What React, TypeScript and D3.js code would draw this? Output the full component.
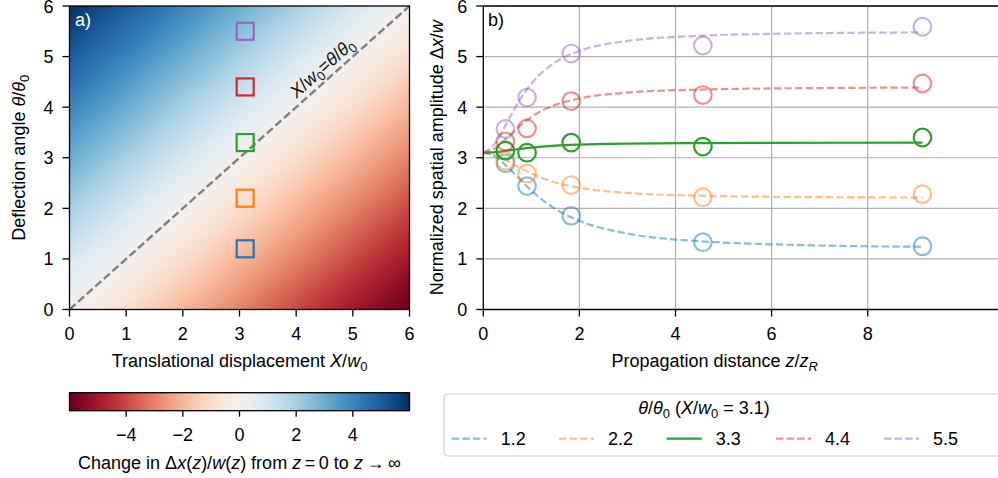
import React from 'react';
import * as d3 from 'd3';

// ---------- data ----------
const X0 = 3.1;
const thetaValues = [1.2, 2.2, 3.3, 4.4, 5.5];
const seriesLabels = ['1.2', '2.2', '3.3', '4.4', '5.5'];
const seriesColors = ['#1f77b4', '#ff7f0e', '#2ca02c', '#d62728', '#9467bd'];
const seriesAlpha = [0.5, 0.5, 1, 0.5, 0.5];
const seriesDashed = [true, true, false, true, true];

const measZ = [0.46, 0.91, 1.83, 4.57, 9.14];
const meas12 = [2.89, 2.44, 1.85, 1.33, 1.25];
const meas22 = [2.94, 2.69, 2.46, 2.22, 2.28];
const meas33 = [3.14, 3.1, 3.3, 3.22, 3.4];
const meas44 = [3.32, 3.58, 4.12, 4.24, 4.47];
const meas55 = [3.57, 4.19, 5.06, 5.22, 5.59];
const measAll = [meas12, meas22, meas33, meas44, meas55];

const curveZ = [0, 0.25, 0.5, 0.75, 1, 1.5, 2, 3, 4.5, 6, 9.14];
const curve12 = [3.1, 3.021, 2.824, 2.582, 2.351, 1.988, 1.753, 1.502, 1.351, 1.289, 1.24];
const curve22 = [3.1, 3.054, 2.942, 2.809, 2.688, 2.511, 2.407, 2.306, 2.25, 2.229, 2.213];
const curve33 = [3.1, 3.112, 3.141, 3.173, 3.202, 3.24, 3.261, 3.281, 3.291, 3.295, 3.298];
const curve44 = [3.1, 3.191, 3.4, 3.622, 3.806, 4.045, 4.172, 4.288, 4.348, 4.37, 4.387];
const curve55 = [3.1, 3.29, 3.707, 4.128, 4.464, 4.889, 5.111, 5.309, 5.411, 5.449, 5.478];
const curveAll = [curve12, curve22, curve33, curve44, curve55];

const axisTicksA = [0, 1, 2, 3, 4, 5, 6];
const xTicksB = [0, 2, 4, 6, 8];
const cbTicks = [-4, -2, 0, 2, 4];
const cbDomain = [-6, 6];

// ---------- layout ----------
const W = 998;
const H = 478;
const FONT = '"Liberation Sans", Arial, Helvetica, sans-serif';
const FS = 18;

const xA = d3.scaleLinear().domain([0, 6]).range([69.5, 409.5]);
const yS = d3.scaleLinear().domain([0, 6]).range([309.5, 6]);
const xB = d3.scaleLinear().domain([0, 8]).range([483.3, 867.7]);
const bRight = 1012;
const cbScale = d3.scaleLinear().domain(cbDomain).range([69.5, 409.5]);
const cbTop = 392.7;
const cbBottom = 410.7;

const minus = (v: number) => (v < 0 ? '\u2212' + Math.abs(v) : String(v));

function App() {
  // heatmap gradient geometry: value = theta - X
  const sx = (xA(1) - xA(0));
  const sy = (yS(0) - yS(1));
  const gx = -1 / sx;
  const gy = -1 / sy;
  const g2 = gx * gx + gy * gy;
  const span = cbDomain[1] - cbDomain[0];
  const p1 = [xA(6), yS(0)]; // value = -6
  const p2 = [p1[0] + gx * span / g2, p1[1] + gy * span / g2];
  const nStops = 41;
  const stops = d3.range(nStops).map(i => i / (nStops - 1));

  const line = d3.line<[number, number]>()
    .x(d => xB(d[0]))
    .y(d => yS(d[1]))
    .curve(d3.curveMonotoneX);

  const diagAngle = -Math.atan2(yS(0) - yS(6), xA(6) - xA(0)) * 180 / Math.PI;
  const labPt = [xA(4.6), yS(4.6)];

  const legendX = [451.7, 559, 666.7, 776, 884];
  const legendY = 438.7;

  const sub = (t: string, italic = false) => (
    <tspan fontSize={13} dy={4} fontStyle={italic ? 'italic' : 'normal'}>{t}</tspan>
  );

  return (
    <svg width={W} height={H} style={{ position: 'absolute', left: 0, top: 0, fontFamily: FONT }}>
      <defs>
        <linearGradient id="heat" gradientUnits="userSpaceOnUse" x1={p1[0]} y1={p1[1]} x2={p2[0]} y2={p2[1]}>
          {stops.map((t, i) => (
            <stop key={i} offset={t} stopColor={d3.interpolateRdBu(t)} />
          ))}
        </linearGradient>
        <linearGradient id="cbar" gradientUnits="userSpaceOnUse" x1={cbScale(-6)} y1={0} x2={cbScale(6)} y2={0}>
          {stops.map((t, i) => (
            <stop key={i} offset={t} stopColor={d3.interpolateRdBu(t)} />
          ))}
        </linearGradient>
        <clipPath id="clipB">
          <rect x={xB(0)} y={yS(6)} width={bRight - xB(0)} height={yS(0) - yS(6)} />
        </clipPath>
      </defs>
      <rect x={0} y={0} width={W} height={H} fill="white" />

      {/* ---------- Panel a ---------- */}
      <rect x={xA(0)} y={yS(6)} width={xA(6) - xA(0)} height={yS(0) - yS(6)} fill="url(#heat)" />
      <line x1={xA(0)} y1={yS(0)} x2={xA(6)} y2={yS(6)} stroke="#7f7f7f" strokeWidth={2.4} strokeDasharray="8,3.5" />
      <text transform={`translate(${labPt[0]},${labPt[1]}) rotate(${diagAngle})`} textAnchor="middle" dy={-6} fontSize={FS} fill="#111">
        <tspan fontStyle="italic">X</tspan>/<tspan fontStyle="italic">w</tspan>{sub('0')}
        <tspan dy={-4}>=</tspan><tspan fontStyle="italic">θ</tspan>/<tspan fontStyle="italic">θ</tspan>{sub('0')}
      </text>
      {thetaValues.map((th, i) => (
        <rect key={i} x={xA(X0) - 8.5} y={yS(th) - 8.5} width={17} height={17} fill="none" stroke={seriesColors[i]} strokeWidth={2.2} />
      ))}
      <text x={75} y={26} fill="white" fontSize={FS}>a)</text>
      <rect x={xA(0)} y={yS(6)} width={xA(6) - xA(0)} height={yS(0) - yS(6)} fill="none" stroke="black" strokeWidth={1.3} />
      {axisTicksA.map(t => (
        <g key={'xa' + t}>
          <line x1={xA(t)} x2={xA(t)} y1={yS(0)} y2={yS(0) + 7} stroke="black" strokeWidth={1.3} />
          <text x={xA(t)} y={340} textAnchor="middle" fontSize={FS}>{t}</text>
        </g>
      ))}
      {axisTicksA.map(t => (
        <g key={'ya' + t}>
          <line x1={xA(0) - 7} x2={xA(0)} y1={yS(t)} y2={yS(t)} stroke="black" strokeWidth={1.3} />
          <text x={xA(0) - 16} y={yS(t) + 6.5} textAnchor="end" fontSize={FS}>{t}</text>
        </g>
      ))}
      <text x={(xA(0) + xA(6)) / 2} y={367} textAnchor="middle" fontSize={FS}>
        Translational displacement <tspan fontStyle="italic">X</tspan>/<tspan fontStyle="italic">w</tspan>{sub('0')}
      </text>
      <text transform={`translate(25,${(yS(0) + yS(6)) / 2}) rotate(-90)`} textAnchor="middle" fontSize={FS}>
        Deflection angle <tspan fontStyle="italic">θ</tspan>/<tspan fontStyle="italic">θ</tspan>{sub('0')}
      </text>

      {/* ---------- Colorbar ---------- */}
      <rect x={cbScale(-6)} y={cbTop} width={cbScale(6) - cbScale(-6)} height={cbBottom - cbTop} fill="url(#cbar)" stroke="black" strokeWidth={1.3} />
      {cbTicks.map(t => (
        <g key={'cb' + t}>
          <line x1={cbScale(t)} x2={cbScale(t)} y1={cbBottom} y2={cbBottom + 6} stroke="black" strokeWidth={1.3} />
          <text x={cbScale(t)} y={441} textAnchor="middle" fontSize={FS}>{minus(t)}</text>
        </g>
      ))}
      <text x={(cbScale(-6) + cbScale(6)) / 2} y={469} textAnchor="middle" fontSize={FS}>
        Change in Δ<tspan fontStyle="italic">x</tspan>(<tspan fontStyle="italic">z</tspan>)/<tspan fontStyle="italic">w</tspan>(<tspan fontStyle="italic">z</tspan>) from <tspan fontStyle="italic">z</tspan>{'\u2009'}={'\u2009'}0 to <tspan fontStyle="italic">z</tspan>{'\u2009'}→{'\u2009'}∞
      </text>

      {/* ---------- Panel b ---------- */}
      <g clipPath="url(#clipB)">
        {axisTicksA.filter(t => t > 0).map(t => (
          <line key={'gy' + t} x1={xB(0)} x2={bRight} y1={yS(t)} y2={yS(t)} stroke="#b0b0b0" strokeWidth={1.2} />
        ))}
        {xTicksB.filter(t => t > 0).map(t => (
          <line key={'gx' + t} x1={xB(t)} x2={xB(t)} y1={yS(0)} y2={yS(6)} stroke="#b0b0b0" strokeWidth={1.2} />
        ))}
        {curveAll.map((c, i) => (
          <path key={'c' + i}
            d={line(curveZ.map((z, j) => [z, c[j]] as [number, number])) || ''}
            fill="none" stroke={seriesColors[i]} strokeOpacity={seriesAlpha[i]} strokeWidth={2.2}
            strokeDasharray={seriesDashed[i] ? '7.4,3.2' : undefined} />
        ))}
        {measAll.map((m, i) => m.map((v, j) => (
          <circle key={'m' + i + '-' + j} cx={xB(measZ[j])} cy={yS(v)} r={8.8} fill="none"
            stroke={seriesColors[i]} strokeOpacity={seriesAlpha[i]} strokeWidth={2.2} />
        )))}
      </g>
      <line x1={xB(0)} x2={bRight} y1={yS(6)} y2={yS(6)} stroke="black" strokeWidth={1.3} />
      <line x1={xB(0)} x2={bRight} y1={yS(0)} y2={yS(0)} stroke="black" strokeWidth={1.3} />
      <line x1={xB(0)} x2={xB(0)} y1={yS(0)} y2={yS(6)} stroke="black" strokeWidth={1.3} />
      <text x={488} y={26} fontSize={FS}>b)</text>
      {xTicksB.map(t => (
        <g key={'xb' + t}>
          <line x1={xB(t)} x2={xB(t)} y1={yS(0)} y2={yS(0) + 7} stroke="black" strokeWidth={1.3} />
          <text x={xB(t)} y={340} textAnchor="middle" fontSize={FS}>{t}</text>
        </g>
      ))}
      {axisTicksA.map(t => (
        <g key={'yb' + t}>
          <line x1={xB(0) - 7} x2={xB(0)} y1={yS(t)} y2={yS(t)} stroke="black" strokeWidth={1.3} />
          <text x={xB(0) - 16} y={yS(t) + 6.5} textAnchor="end" fontSize={FS}>{t}</text>
        </g>
      ))}
      <text x={714.7} y={367} textAnchor="middle" fontSize={FS}>
        Propagation distance <tspan fontStyle="italic">z</tspan>/<tspan fontStyle="italic">z</tspan>{sub('R', true)}
      </text>
      <text transform={`translate(443,${(yS(0) + yS(6)) / 2}) rotate(-90)`} textAnchor="middle" fontSize={FS}>
        Normalized spatial amplitude Δ<tspan fontStyle="italic">x</tspan>/<tspan fontStyle="italic">w</tspan>
      </text>

      {/* ---------- Legend ---------- */}
      <rect x={444} y={394} width={620} height={62} rx={4} fill="white" stroke="#d0d0d0" strokeWidth={1.2} />
      <text x={704} y={414} textAnchor="middle" fontSize={FS}>
        <tspan fontStyle="italic">θ</tspan>/<tspan fontStyle="italic">θ</tspan>{sub('0')}<tspan dy={-4}> (</tspan><tspan fontStyle="italic">X</tspan>/<tspan fontStyle="italic">w</tspan>{sub('0')}<tspan dy={-4}> = 3.1)</tspan>
      </text>
      {seriesLabels.map((lab, i) => (
        <g key={'lg' + i}>
          <line x1={legendX[i]} x2={legendX[i] + 35} y1={legendY} y2={legendY}
            stroke={seriesColors[i]} strokeOpacity={seriesAlpha[i]} strokeWidth={2.2}
            strokeDasharray={seriesDashed[i] ? '7.4,3.2' : undefined} />
          <text x={legendX[i] + 49} y={legendY + 6.5} fontSize={FS}>{lab}</text>
        </g>
      ))}
    </svg>
  );
}

export default App;
